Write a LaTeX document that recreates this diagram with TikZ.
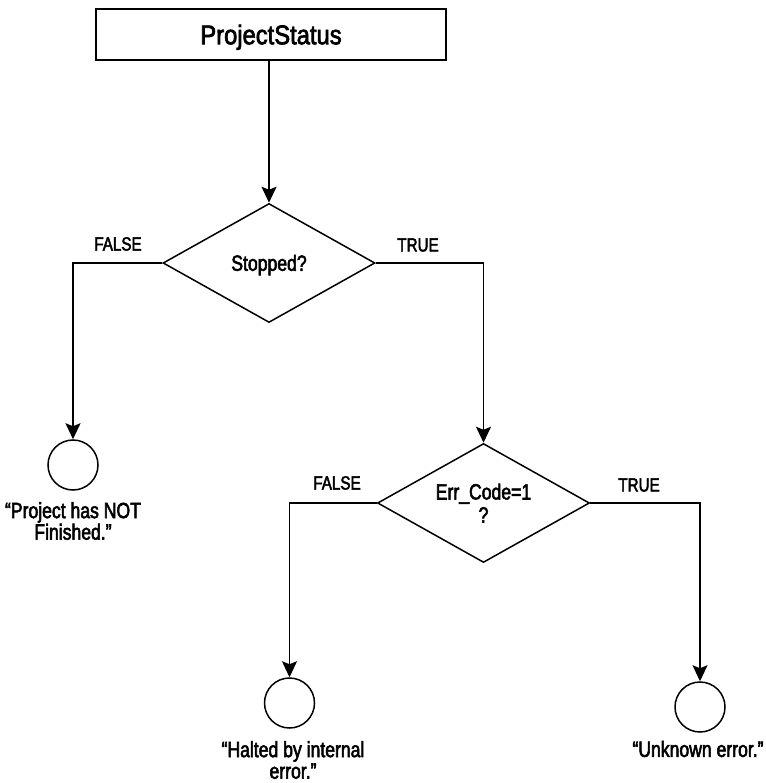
\documentclass[tikz,border=0pt]{standalone}
\usepackage{fontspec}
\setmainfont{Liberation Sans}[FakeStretch=0.8,FakeBold=2.5]
\newfontfamily\titlefont{Liberation Sans}[FakeStretch=0.88,FakeBold=2.5]
\usetikzlibrary{arrows.meta,shapes.geometric}
\begin{document}
\begin{tikzpicture}[x=1pt,y=-1pt,line width=1.5pt,
  arr/.style={draw,-{Stealth[length=16pt,width=15pt,inset=3pt]}},
  titlebox/.style={draw,rectangle,minimum width=350pt,minimum height=51pt,inner sep=0pt,
    font=\titlefont\fontsize{27}{30}\selectfont,text height=25.5pt,text depth=6pt},
  decision/.style={draw,diamond,minimum width=212pt,minimum height=119pt,inner sep=0pt,
    aspect=1.78,font=\fontsize{22}{23}\selectfont,align=center},
  endpt/.style={draw,circle,minimum size=50pt,inner sep=0pt},
  lbl/.style={font=\fontsize{19}{22}\selectfont,inner sep=0pt},
  endlbl/.style={font=\fontsize{22}{21.5}\selectfont,align=center,inner sep=0pt}]
\useasboundingbox (0,0) rectangle (765,783);
\node[titlebox] (ps) at (271,34.5) {ProjectStatus};
\node[decision,text height=20.5pt,text depth=5pt] (d1) at (269,263) {Stopped?};
\node[decision] (d2) at (483.5,503) {Err\_Code=1\\?};
\node[endpt] (c1) at (73,465) {};
\node[endpt] (c2) at (289.5,703) {};
\node[endpt] (c3) at (700,707) {};
\draw[arr] (ps.south -| d1.north) -- (d1.north);
\draw[arr] (d1.west) -| (c1.north);
\draw[arr] (d1.east) -| (d2.north);
\draw[arr] (d2.west) -| (c2.north);
\draw[arr] (d2.east) -| (c3.north);
\node[lbl] (f1) at (118,244) {FALSE};
\node[lbl] (t1) at (418,245) {TRUE};
\node[lbl] (f2) at (337,483) {FALSE};
\node[lbl] (t2) at (639,485) {TRUE};
\node[endlbl] (l1) at (73,521) {“Project has NOT\\Finished.”};
\node[endlbl] (l2) at (293,760) {“Halted by internal\\error.”};
\node[endlbl] (l3) at (698,749) {“Unknown error.”};
\end{tikzpicture}
\end{document}
